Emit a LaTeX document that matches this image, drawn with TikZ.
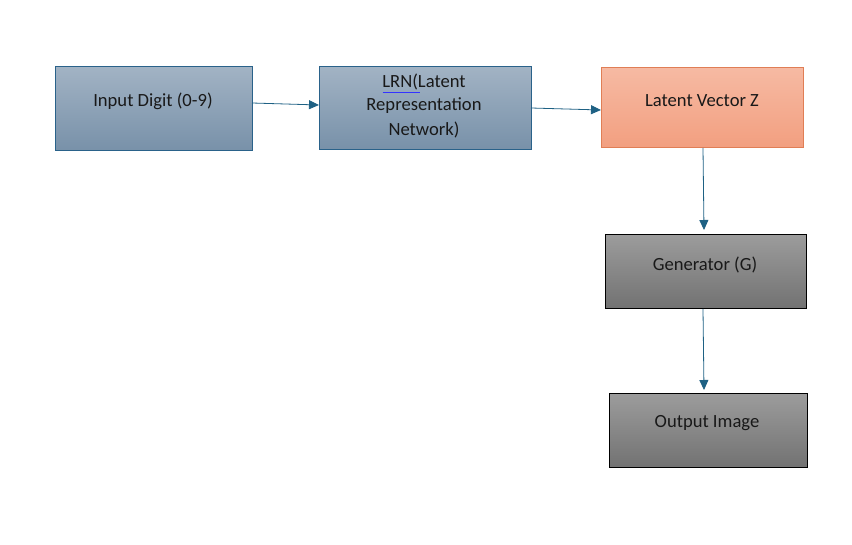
\documentclass[tikz,border=0pt]{standalone}
\usepackage{fontspec}
\setmainfont{Carlito}
\usetikzlibrary{arrows.meta}
\definecolor{blueA}{HTML}{A2B3C4}
\definecolor{blueB}{HTML}{7891A9}
\definecolor{blueD}{HTML}{2A628A}
\definecolor{orangeA}{HTML}{F6BAA3}
\definecolor{orangeB}{HTML}{F29F80}
\definecolor{orangeD}{HTML}{E07E55}
\definecolor{grayA}{HTML}{9C9C9C}
\definecolor{grayB}{HTML}{727272}
\definecolor{arrowC}{HTML}{1E6184}
\begin{document}
\begin{tikzpicture}[x=1pt,y=-1pt,
  box/.style={rectangle, line width=0.8pt, inner sep=0pt, anchor=north west},
  bluebox/.style={box, draw=blueD, top color=blueA, bottom color=blueB},
  orangebox/.style={box, draw=orangeD, top color=orangeA, bottom color=orangeB},
  graybox/.style={box, draw=black, top color=grayA, bottom color=grayB},
  lbl/.style={font=\fontsize{18.6}{24}\selectfont, text=black!90, align=center, inner sep=0pt},
  conn/.style={draw=arrowC, line width=0.8pt, -{Triangle[length=10pt,width=9pt]}}
]
\useasboundingbox (0,0) rectangle (852,545);
% boxes
\node[bluebox, minimum width=197pt, minimum height=84pt] (in) at (55,66) {};
\node[bluebox, minimum width=212pt, minimum height=83pt] (lrn) at (319,66) {};
\node[orangebox, minimum width=202pt, minimum height=80pt] (lat) at (601,67) {};
\node[graybox, minimum width=201pt, minimum height=74pt] (gen) at (605,234) {};
\node[graybox, minimum width=198pt, minimum height=74pt] (out) at (609,393) {};
% labels
\node[lbl] (tin) at (153,101) {Input Digit (0-9)};
\node[lbl] (tlrn1) at (424,82) {LRN(Latent};
\node[lbl] (tlrn2) at (424,106) {Representation};
\node[lbl] (tlrn3) at (424,130) {Network)};
\node[lbl] (tlat) at (702,101) {Latent Vector Z};
\node[lbl] (tgen) at (705,265) {Generator (G)};
\node[lbl] (tout) at (707,423) {Output Image};
\coordinate (ul1) at ([xshift=0.5pt,yshift=-2pt]tlrn1.south west);
\coordinate (ul2) at ([xshift=38pt,yshift=-2pt]tlrn1.south west);
\draw[blue!80!white, line width=0.6pt] (ul1) -- (ul2);
% connectors
\coordinate (a1s) at (252,103);
\coordinate (a1e) at (319,105);
\coordinate (a2s) at (531,108);
\coordinate (a2e) at (601,110);
\coordinate (a3s) at (703,148);
\coordinate (a3e) at (704,230);
\coordinate (a4s) at (703,309);
\coordinate (a4e) at (704,390);
\draw[conn] (a1s) -- (a1e);
\draw[conn] (a2s) -- (a2e);
\draw[conn] (a3s) -- (a3e);
\draw[conn] (a4s) -- (a4e);
\end{tikzpicture}
\end{document}
